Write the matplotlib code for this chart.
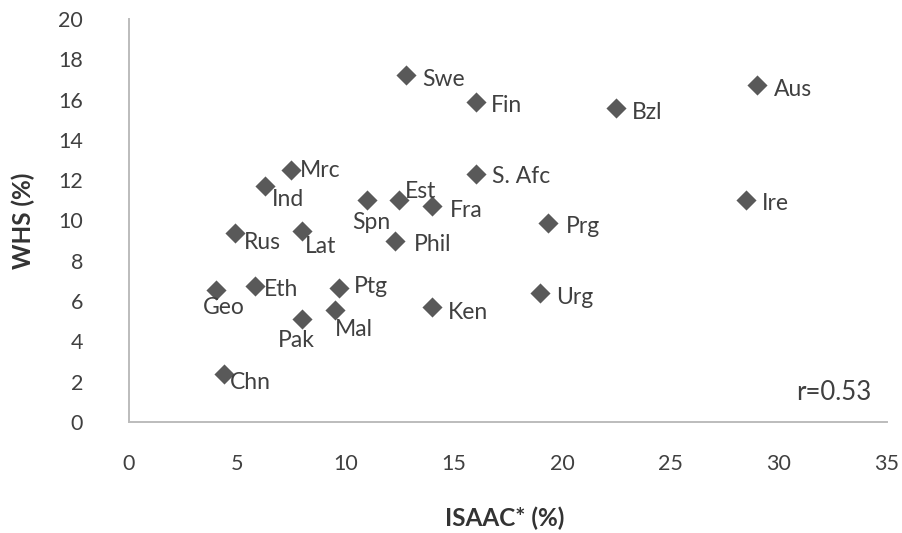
import matplotlib
matplotlib.use("Agg")
import matplotlib.pyplot as plt

plt.rcParams["font.family"] = ["Lato", "DejaVu Sans"]

countries = ["Swe", "Fin", "Bzl", "Aus", "Mrc", "Ind", "S. Afc", "Est", "Spn",
             "Fra", "Ire", "Prg", "Rus", "Lat", "Phil", "Geo", "Eth", "Ptg",
             "Ken", "Urg", "Pak", "Mal", "Chn"]
isaac = [12.8, 16.0, 22.5, 29.0, 7.5, 6.3, 16.0, 12.45, 11.0,
         14.0, 28.5, 19.35, 4.9, 8.0, 12.3, 4.0, 5.8, 9.7,
         14.0, 19.0, 8.0, 9.5, 4.4]
whs = [17.2, 15.9, 15.6, 16.7, 12.5, 11.7, 12.3, 11.0, 11.0,
       10.7, 11.0, 9.9, 9.4, 9.5, 9.0, 6.55, 6.75, 6.65,
       5.7, 6.4, 5.1, 5.55, 2.4]

# label placement relative to each marker (pixels, left edge / vertical centre)
label_offsets = {
    "Swe": (16, -2), "Fin": (15, -2), "Bzl": (16, -3), "Aus": (17, -2),
    "Mrc": (8, 2), "Ind": (6, -11), "S. Afc": (16, 0), "Est": (6, 11),
    "Spn": (-15, -20), "Fra": (18, -2), "Ire": (16, -1), "Prg": (18, -2),
    "Rus": (9, -8), "Lat": (3, -14), "Phil": (18, -2), "Geo": (-13, -15),
    "Eth": (9, -2), "Ptg": (15, 4), "Ken": (16, -3), "Urg": (16, -2),
    "Pak": (-24, -19), "Mal": (0, -17), "Chn": (6, -7),
}

fig = plt.figure(figsize=(9.03, 5.33), dpi=100)
ax = fig.add_axes([129 / 903, 1 - 422 / 533, 758 / 903, 403 / 533])

ax.scatter(isaac, whs, marker="D", s=105, color="#595959", linewidths=0, zorder=3)
for name, x, y in zip(countries, isaac, whs):
    dx, dy = label_offsets[name]
    ax.annotate(name, (x, y), xytext=(dx, dy), textcoords="offset pixels",
                ha="left", va="center_baseline", fontsize=16.5, color="#404040")

ax.set_xlim(0, 35)
ax.set_ylim(0, 20)
ax.set_xticks(range(0, 36, 5))
ax.set_yticks(range(0, 21, 2))
for side in ("top", "right"):
    ax.spines[side].set_visible(False)
for side in ("left", "bottom"):
    ax.spines[side].set_color("#bcbcbc")
    ax.spines[side].set_linewidth(1.4)
ax.tick_params(length=0, labelsize=15.5, labelcolor="#404040")
ax.tick_params(axis="y", pad=33)
ax.tick_params(axis="x", pad=23)

ax.set_xlabel("ISAAC* (%)", fontsize=17.5, fontweight="bold", color="#333333",
              va="center")
ax.xaxis.set_label_coords(0.495, -0.238)
ax.set_ylabel("WHS (%)", fontsize=17.5, fontweight="bold", color="#333333",
              rotation=90, va="center", ha="center", rotation_mode="default")
ax.yaxis.set_label_coords(-0.14, 0.5)

ax.text(0.98, 0.079, "r=0.53", transform=ax.transAxes, ha="right",
        va="center_baseline", fontsize=18.5, color="#404040")

fig.savefig("out.png", dpi=100)
